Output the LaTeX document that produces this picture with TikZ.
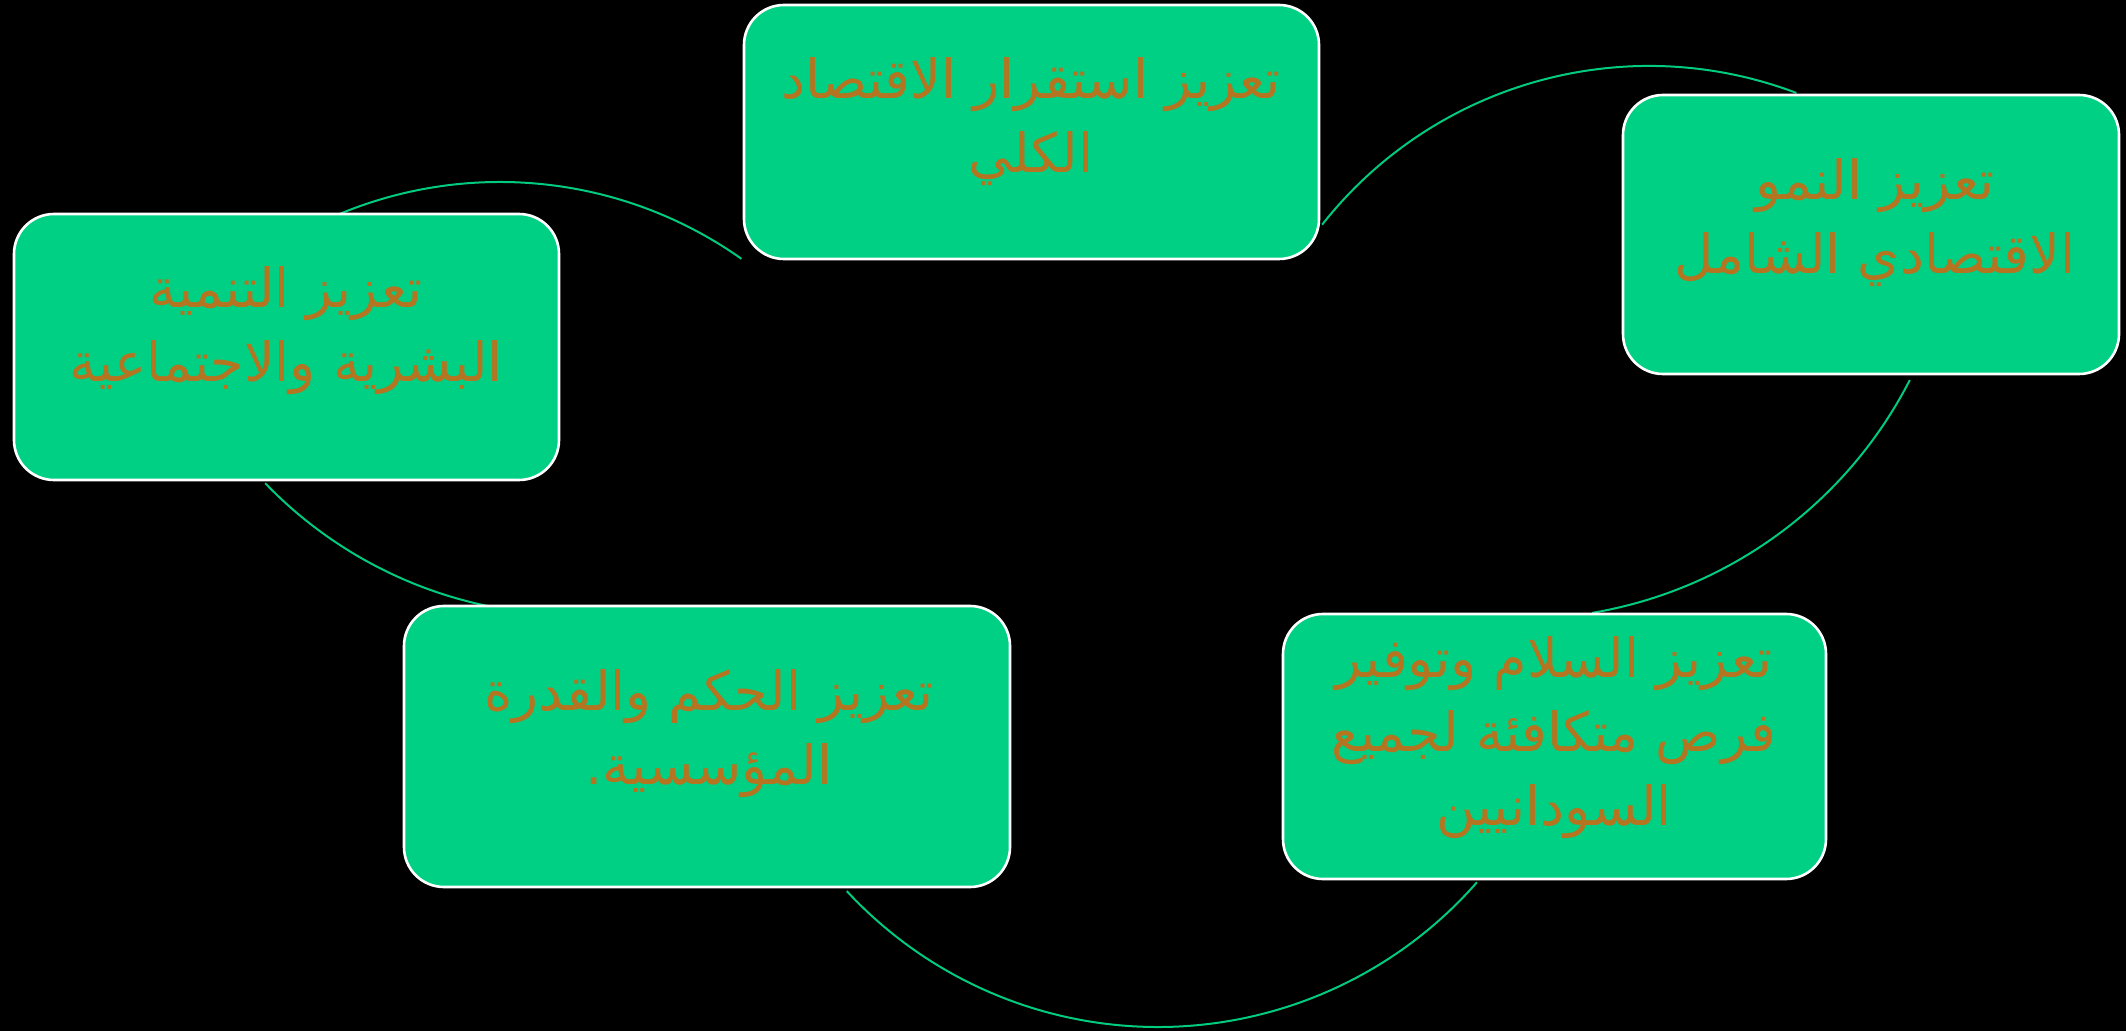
\documentclass[tikz,border=0pt]{standalone}
\usepackage{fontspec}
\newfontfamily\arabicfont[Script=Arabic]{DejaVu Sans}
\TeXXeTstate=1
\definecolor{boxgreen}{RGB}{0,208,132}
\definecolor{arcgreen}{RGB}{0,204,128}
\definecolor{txtbrown}{RGB}{181,116,32}
\begin{document}
\begin{tikzpicture}[x=0.5pt,y=-0.5pt,
  box/.style={draw=white, line width=1.3pt, fill=boxgreen, rounded corners=20pt, inner sep=0pt},
  lbl/.style={text=txtbrown, font=\arabicfont\fontsize{27}{37}\selectfont, align=center, inner sep=0pt},
  cyc/.style={draw=arcgreen, line width=1pt}]
\fill[black] (0,0) rectangle (2126,1031);
\useasboundingbox (0,0) rectangle (2126,1031);
% connectors (arcs of the cycle)
\coordinate (a1) at (340,213.8);
\coordinate (a2) at (1322.1,224.7);
\coordinate (a3) at (1909.8,380);
\coordinate (a4) at (1476.9,882.3);
\coordinate (a5) at (654.8,607.5);
\draw[cyc] (a1) arc[start angle=112.5, end angle=54.7, radius=209pt];
\draw[cyc] (a2) arc[start angle=141.8, end angle=69.25, radius=208pt];
\draw[cyc] (a3) arc[start angle=-27.1, end angle=-80.4, radius=219.5pt];
\draw[cyc] (a4) arc[start angle=-41.2, end angle=-137.2, radius=212pt];
\draw[cyc] (a5) arc[start angle=-79.3, end angle=-136.1, radius=215pt];
% boxes
\node[box, minimum width=287.5pt, minimum height=127pt] (boxA) at (1031.5,132) {};
\node[box, minimum width=248pt, minimum height=139.5pt] (boxB) at (1871,234.5) {};
\node[box, minimum width=272.5pt, minimum height=133pt] (boxC) at (286.5,347) {};
\node[box, minimum width=303pt, minimum height=140.5pt] (boxD) at (707,746.5) {};
\node[box, minimum width=271.5pt, minimum height=132.5pt] (boxE) at (1554.5,746.5) {};
% labels
\node[lbl] (tA) at (1031,122) {\beginR تعزيز استقرار الاقتصاد\endR\\\beginR الكلي\endR};
\node[lbl] (tB) at (1875,223) {\beginR تعزيز النمو\endR\\\beginR الاقتصادي الشامل\endR};
\node[lbl] (tC) at (286,331) {\beginR تعزيز التنمية\endR\\\beginR البشرية والاجتماعية\endR};
\node[lbl] (tD) at (709,734) {\beginR تعزيز الحكم والقدرة\endR\\\beginR المؤسسية.\endR};
\node[lbl] (tE) at (1554,738) {\beginR تعزيز السلام وتوفير\endR\\\beginR فرص متكافئة لجميع\endR\\\beginR السودانيين\endR};
\end{tikzpicture}
\end{document}
